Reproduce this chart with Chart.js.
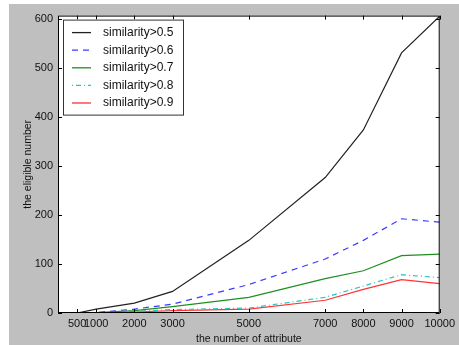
<!DOCTYPE html>
<html>
<head>
<meta charset="utf-8">
<script src="https://cdn.jsdelivr.net/npm/chart.js@4"></script>
<style>
  html, body { margin: 0; padding: 0; background: #fff; }
  #wrap { position: absolute; left: 9px; top: 4px; width: 450px; height: 341px; background: #bfbfbf; }
</style>
</head>
<body>
<div id="wrap"><canvas id="myChart"></canvas></div>
<script>
// data
const attributes = [500, 1000, 2000, 3000, 5000, 7000, 8000, 9000, 10000]
const xTicks = [500, 1000, 2000, 3000, 5000, 7000, 8000, 9000, 10000]
const yTicks = [0, 100, 200, 300, 400, 500, 600]

const sim05 = [0, 8, 20, 44, 148, 276, 373, 530, 605]
const sim06 = [0, 1, 8, 18, 58, 110, 148, 192, 185]
const sim07 = [0, 1, 5, 13, 32, 70, 86, 117, 120]
const sim08 = [0, 0, 3, 7, 10, 32, 55, 78, 72]
const sim09 = [0, 0, 2, 5, 8, 26, 48, 68, 60]

const labels = ['similarity>0.5', 'similarity>0.6', 'similarity>0.7', 'similarity>0.8', 'similarity>0.9']
const colors = ['#222222', '#3b3bff', '#1f8f1f', '#22c6c6', '#ff3333']
const dashes = [[], [6, 5], [], [1, 3, 5, 3], []]

const font = 'Liberation Sans, Arial, sans-serif'

function points(ys) {
    return attributes.map((x, i) => ({ x: x, y: ys[i] }))
}

// white plot area, box round it, inward ticks on all four sides, legend inside
const framePlugin = {
    id: 'frame',
    beforeDraw(chart) {
        const a = chart.chartArea
        chart.ctx.save()
        chart.ctx.fillStyle = '#fff'
        chart.ctx.fillRect(a.left, a.top, a.right - a.left, a.bottom - a.top)
        chart.ctx.restore()
    },
    afterDraw(chart) {
        const ctx = chart.ctx
        const a = chart.chartArea
        const xs = chart.scales.x
        const ys = chart.scales.y
        ctx.save()
        ctx.strokeStyle = '#000'
        ctx.lineWidth = 1
        ctx.strokeRect(a.left + 0.5, a.top + 0.5, a.right - a.left - 1, a.bottom - a.top - 1)
        ctx.beginPath()
        xTicks.forEach(v => {
            const px = Math.round(xs.getPixelForValue(v)) + 0.5
            ctx.moveTo(px, a.bottom); ctx.lineTo(px, a.bottom - 4)
            ctx.moveTo(px, a.top); ctx.lineTo(px, a.top + 4)
        })
        yTicks.forEach(v => {
            const py = Math.round(ys.getPixelForValue(v)) + 0.5
            ctx.moveTo(a.left, py); ctx.lineTo(a.left + 4, py)
            ctx.moveTo(a.right, py); ctx.lineTo(a.right - 4, py)
        })
        ctx.stroke()

        // legend
        const lx = a.left + 5, ly = a.top + 4, lw = 120, lh = 95
        ctx.fillStyle = '#fff'
        ctx.fillRect(lx, ly, lw, lh)
        ctx.strokeStyle = '#333'
        ctx.strokeRect(lx + 0.5, ly + 0.5, lw, lh)
        ctx.font = '12px ' + font
        ctx.textBaseline = 'middle'
        chart.data.datasets.forEach((ds, i) => {
            const ry = ly + 13 + i * 17.6
            ctx.strokeStyle = ds.borderColor
            ctx.lineWidth = 1.3
            ctx.setLineDash(ds.borderDash || [])
            ctx.beginPath()
            ctx.moveTo(lx + 9, ry); ctx.lineTo(lx + 28, ry)
            ctx.stroke()
            ctx.setLineDash([])
            ctx.fillStyle = '#111'
            ctx.fillText(ds.label, lx + 40, ry)
        })
        ctx.restore()
    }
}

const ctx = document.getElementById('myChart')
new Chart(ctx, {
    type: 'line',
    data: {
        datasets: labels.map((l, i) => ({
            label: l,
            data: points([sim05, sim06, sim07, sim08, sim09][i]),
            borderColor: colors[i],
            borderDash: dashes[i],
            borderWidth: 1.2,
            pointRadius: 0,
            tension: 0,
            fill: false
        }))
    },
    options: {
        responsive: true,
        maintainAspectRatio: false,
        animation: false,
        layout: { padding: { left: 13, right: 11, top: 7, bottom: 0 } },
        plugins: {
            legend: { display: false },
            tooltip: { enabled: false }
        },
        scales: {
            x: {
                type: 'linear',
                min: 0,
                max: 10000,
                afterBuildTicks(scale) { scale.ticks = xTicks.map(v => ({ value: v })) },
                afterFit(scale) { scale.height = 32 },
                grid: { display: false, drawTicks: false, tickLength: 0 },
                border: { display: false },
                ticks: {
                    autoSkip: false,
                    maxRotation: 0,
                    padding: 4,
                    color: '#111',
                    font: { family: font, size: 11 },
                    callback: v => String(v)
                },
                title: {
                    display: true,
                    text: 'the number of attribute',
                    color: '#111',
                    padding: { top: 0, bottom: 0 },
                    font: { family: font, size: 10.5 }
                }
            },
            y: {
                min: 0,
                max: 606,
                afterBuildTicks(scale) { scale.ticks = yTicks.map(v => ({ value: v })) },
                afterFit(scale) { scale.width = 36 },
                grid: { display: false, drawTicks: false, tickLength: 0 },
                border: { display: false },
                ticks: {
                    padding: 5,
                    color: '#111',
                    font: { family: font, size: 11 }
                },
                title: {
                    display: true,
                    text: 'the eligible number',
                    color: '#111',
                    padding: { top: 0, bottom: 2 },
                    font: { family: font, size: 10.5 }
                }
            }
        }
    },
    plugins: [framePlugin]
})
</script>
</body>
</html>
